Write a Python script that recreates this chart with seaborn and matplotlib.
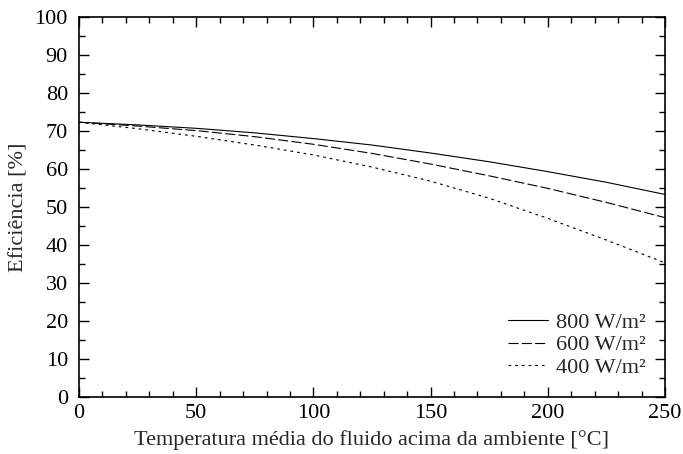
import matplotlib
matplotlib.use('Agg')
import matplotlib.pyplot as plt
import pandas as pd
import seaborn as sns
from matplotlib.ticker import MultipleLocator

sns.set_style('ticks')
plt.rcParams['font.family'] = ['Liberation Serif', 'DejaVu Serif']

# values
delta_t = [0, 25, 50, 75, 100, 125, 150, 175, 200, 225, 250]
eff_800 = [72.3, 71.6, 70.7, 69.5, 68.0, 66.3, 64.2, 61.9, 59.3, 56.5, 53.3]
eff_600 = [72.3, 71.3, 70.1, 68.5, 66.5, 64.1, 61.3, 58.2, 54.9, 51.2, 47.2]
eff_400 = [72.3, 70.6, 68.6, 66.3, 63.7, 60.5, 56.8, 52.3, 47.0, 41.3, 35.3]
labels = ['800 W/m²', '600 W/m²', '400 W/m²']

df = pd.DataFrame({
    'dt': delta_t * 3,
    'eff': eff_800 + eff_600 + eff_400,
    'serie': [labels[0]] * 11 + [labels[1]] * 11 + [labels[2]] * 11,
})

fig = plt.figure(figsize=(6.83, 4.54), dpi=100)
ax = fig.add_axes([0.1157, 0.1256, 0.8579, 0.837])

dashes = {labels[0]: '', labels[1]: (9, 3), labels[2]: (2.5, 3.5)}
sns.lineplot(data=df, x='dt', y='eff', hue='serie', style='serie',
             palette=['black'] * 3, dashes=dashes, linewidth=0.8, ax=ax)

FS = 16
ax.set_xlim(0, 250)
ax.set_ylim(0, 100)
ax.xaxis.set_major_locator(MultipleLocator(50))
ax.xaxis.set_minor_locator(MultipleLocator(10))
ax.yaxis.set_major_locator(MultipleLocator(10))
ax.yaxis.set_minor_locator(MultipleLocator(5))
ax.tick_params(which='both', direction='in', top=True, right=True,
               width=1.0, labelsize=FS, colors='black')
ax.tick_params(which='major', length=7)
ax.tick_params(which='minor', length=4)
ax.tick_params(axis='x', which='major', pad=5)
ax.tick_params(axis='y', which='major', pad=8)
for s in ax.spines.values():
    s.set_linewidth(1.2)
    s.set_color('black')

ax.set_xlabel('Temperatura média do fluido acima da ambiente [°C]', fontsize=FS, labelpad=5)
ax.set_ylabel('Eficiência [%]', fontsize=FS, labelpad=4)

leg = ax.legend(loc='lower right', frameon=False, fontsize=FS, handlelength=1.8,
                handletextpad=0.4, labelspacing=0.1, borderaxespad=0.45)
for line in leg.get_lines():
    line.set_linewidth(0.8)

fig.savefig('out.png', dpi=100)
